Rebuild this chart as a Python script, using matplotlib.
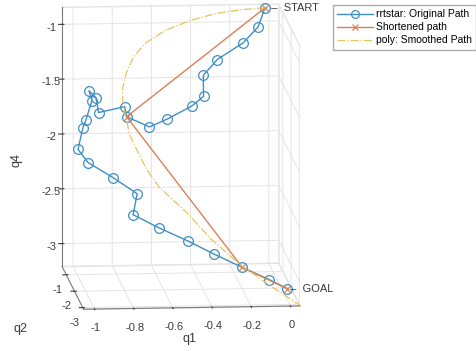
import matplotlib
matplotlib.use("Agg")
import matplotlib.pyplot as plt

plt.rcParams['font.family'] = ['Liberation Sans', 'DejaVu Sans']

# rrtstar original path (q1, q2, q4)
path_q1 = [-0.020, -0.076, -0.152, -0.285, -0.356, -0.376, -0.437, -0.560, -0.652, -0.769,
           -0.779, -0.912, -0.946, -0.982, -0.967, -0.997, -1.013, -1.038, -0.987, -0.880,
           -0.757, -0.778, -0.645, -0.497, -0.364, -0.241, -0.103, -0.011]
path_q2 = [-0.5, -1.0, -1.0, -1.0, -1.0, -1.5, -1.5, -1.5, -1.5, -1.5,
           -1.5, -1.5, -2.0, -2.0, -2.0, -2.0, -2.0, -2.0, -2.0, -2.5,
           -2.5, -2.5, -2.5, -2.5, -2.5, -3.0, -3.0, -3.0]
path_q4 = [-0.878, -0.975, -1.118, -1.267, -1.410, -1.526, -1.614, -1.727, -1.797, -1.701,
           -1.609, -1.659, -1.449, -1.383, -1.475, -1.646, -1.718, -1.917, -2.038, -2.104,
           -2.255, -2.445, -2.569, -2.693, -2.816, -2.866, -2.981, -3.067]

# shortened path
short_q1 = [-0.020, -0.769, -0.241, -0.011]
short_q2 = [-0.5, -1.5, -3.0, -3.0]
short_q4 = [-0.878, -1.701, -2.866, -3.067]

# polynomial smoothed path
smooth_q1 = [-0.020, -0.156, -0.291, -0.422, -0.558, -0.664, -0.729, -0.769, -0.793, -0.797,
             -0.786, -0.770, -0.733, -0.690, -0.633, -0.497, -0.383, -0.238, -0.093, 0.046]
smooth_q2 = [-0.5, -0.7, -0.9, -1.0, -1.2, -1.3, -1.4, -1.5, -1.6, -1.7,
             -1.8, -1.9, -2.0, -2.1, -2.2, -2.4, -2.6, -2.8, -3.0, -3.1]
smooth_q4 = [-0.878, -0.862, -0.863, -0.907, -0.963, -1.062, -1.172, -1.292, -1.422, -1.535,
             -1.656, -1.807, -1.948, -2.099, -2.240, -2.453, -2.665, -2.878, -3.044, -3.200]

q1_ticks = [-1, -0.8, -0.6, -0.4, -0.2, 0]
q1_labels = ['-1', '-0.8', '-0.6', '-0.4', '-0.2', '0']
q2_ticks = [-3, -2, -1]
q2_labels = ['-3', '-2', '-1']
q4_ticks = [-3, -2.5, -2, -1.5, -1]
q4_labels = ['-3', '-2.5', '-2', '-1.5', '-1']

blue = '#3f8fc5'
orange = '#d9805a'
yellow = '#e8c25a'
grid_c = '#e4e4e4'
axis_c = '#7a7a7a'
text_c = '#3a3a3a'


def draw():
    fig = plt.figure(figsize=(4.77, 3.51), dpi=100)
    ax = fig.add_axes([0.01, 0.0405, 0.72, 1.0], projection='3d', proj_type='ortho')

    ax.plot(path_q1, path_q2, path_q4, '-o', color=blue, lw=1.0, ms=7,
            mfc='none', mew=0.9, label='rrtstar: Original Path')
    ax.plot(short_q1, short_q2, short_q4, '-x', color=orange, lw=1.0, ms=5,
            mew=0.9, label='Shortened path')
    ax.plot(smooth_q1, smooth_q2, smooth_q4, '-.', color=yellow, lw=0.9,
            label='poly: Smoothed Path')

    ax.text(path_q1[0], path_q2[0], path_q4[0], '  \u2013  START', fontsize=8,
            color=text_c, ha='left', va='center')
    ax.text(path_q1[-1], path_q2[-1], path_q4[-1], ' \u2013  GOAL', fontsize=8,
            color=text_c, ha='left', va='center')

    ax.set_xlim(-1.056, 0.05)
    ax.set_ylim(-3.1, -0.5)
    ax.set_zlim(-3.21, -0.845)
    ax.set_box_aspect((218, 247, 264), zoom=1.19)
    ax.view_init(elev=10, azim=-95)

    ax.set_xticks(q1_ticks, q1_labels)
    ax.set_yticks(q2_ticks, q2_labels)
    ax.set_zticks(q4_ticks, q4_labels)
    ax.tick_params(labelsize=8, colors=text_c)
    ax.tick_params(axis='x', pad=-2)
    ax.tick_params(axis='y', pad=-3)
    ax.tick_params(axis='z', pad=-2)

    for axis in (ax.xaxis, ax.yaxis, ax.zaxis):
        axis.set_pane_color((1, 1, 1, 1))
        axis.pane.set_edgecolor(grid_c)
        axis.line.set_color(axis_c)
        axis._axinfo['grid']['color'] = grid_c
        axis._axinfo['grid']['linewidth'] = 0.7
        axis.offsetText.set_visible(False)
        axis.label.set_visible(False)

    # axis names placed as in the original figure
    fig.text(190 / 477, 1 - 339 / 351, 'q1', fontsize=9, color=text_c,
             ha='center', va='center')
    fig.text(20 / 477, 1 - 329 / 351, 'q2', fontsize=9, color=text_c,
             ha='center', va='center')
    fig.text(17 / 477, 1 - 160 / 351, 'q4', fontsize=9, color=text_c,
             ha='center', va='center', rotation=90)

    fig.legend(loc='upper left', bbox_to_anchor=(333 / 477, 1 - 5 / 351),
               fontsize=7.5, frameon=True, fancybox=False, edgecolor='#999999',
               handlelength=3.4, handletextpad=0.3, borderaxespad=0,
               labelspacing=0.3, markerscale=0.8)

    fig.savefig('out.png', dpi=100)


if __name__ == '__main__':
    draw()
